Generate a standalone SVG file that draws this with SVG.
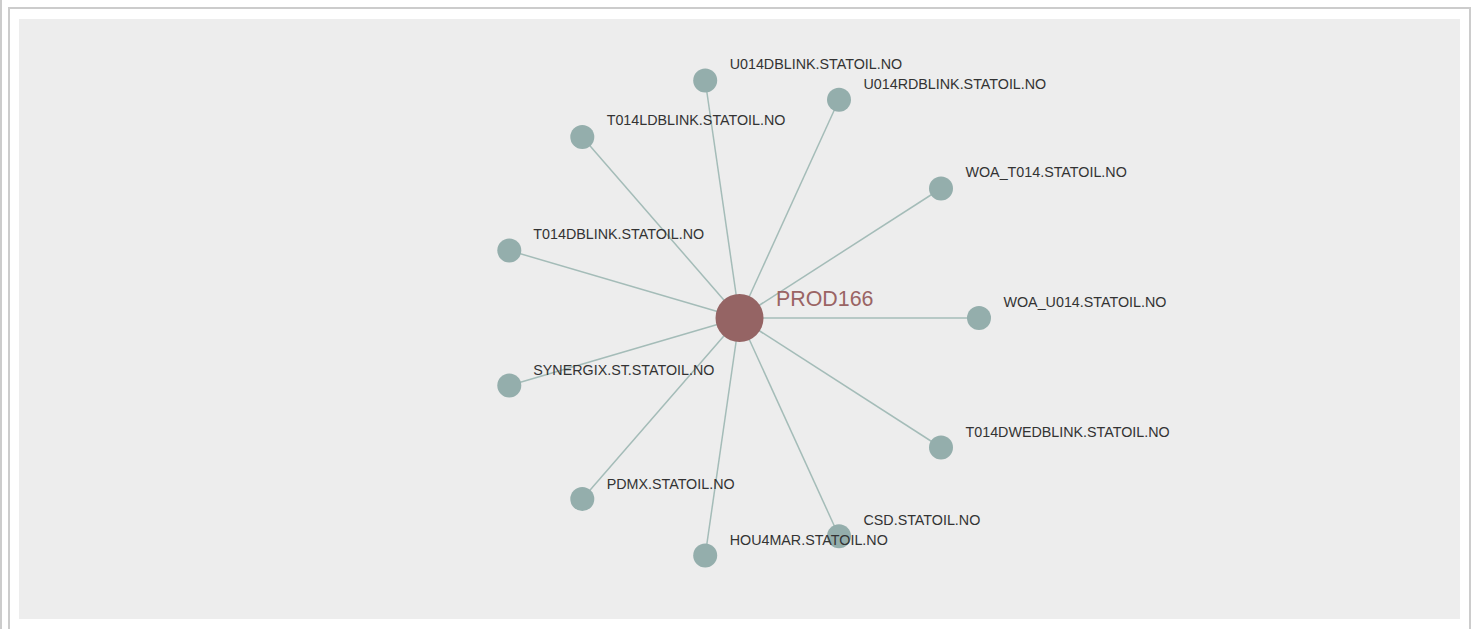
<svg xmlns="http://www.w3.org/2000/svg" width="1471" height="629" viewBox="0 0 1471 629">
<style>
.frame{fill:none;stroke:#cccccc;stroke-width:2}
.edge{stroke:#a4bcb8;stroke-width:1.5}
.leaf{fill:#94aeac}
.hub{fill:#956464}
.lbl{font-family:"Liberation Sans",Arial,sans-serif;font-size:14.3px;fill:#333333}
.hublbl{font-family:"Liberation Sans",Arial,sans-serif;font-size:21.4px;fill:#9a6464}
</style>
<rect x="0" y="0" width="1471" height="629" fill="#ffffff"/>
<line class="frame" x1="1" y1="0" x2="1" y2="629"/>
<path class="frame" d="M9,629 V8 H1470 V629"/>
<rect x="19" y="19" width="1441" height="600" fill="#ededed"/>
<g id="edges">
<line class="edge" x1="739.5" y1="318" x2="979" y2="318"/>
<line class="edge" x1="739.5" y1="318" x2="941" y2="188.5"/>
<line class="edge" x1="739.5" y1="318" x2="941" y2="447.5"/>
<line class="edge" x1="739.5" y1="318" x2="839" y2="99.8"/>
<line class="edge" x1="739.5" y1="318" x2="839" y2="536.2"/>
<line class="edge" x1="739.5" y1="318" x2="705.2" y2="80.5"/>
<line class="edge" x1="739.5" y1="318" x2="705.2" y2="555.5"/>
<line class="edge" x1="739.5" y1="318" x2="582.3" y2="137"/>
<line class="edge" x1="739.5" y1="318" x2="582.3" y2="499"/>
<line class="edge" x1="739.5" y1="318" x2="509.3" y2="250.5"/>
<line class="edge" x1="739.5" y1="318" x2="509.3" y2="385.5"/>
</g>
<g id="n-woa-u014"><circle class="leaf" cx="979" cy="318" r="12"/></g>
<g id="n-woa-t014"><circle class="leaf" cx="941" cy="188.5" r="12"/></g>
<g id="n-t014dwedblink"><circle class="leaf" cx="941" cy="447.5" r="12"/></g>
<g id="n-u014rdblink"><circle class="leaf" cx="839" cy="99.8" r="12"/></g>
<g id="n-csd"><circle class="leaf" cx="839" cy="536.2" r="12"/></g>
<g id="n-u014dblink"><circle class="leaf" cx="705.2" cy="80.5" r="12"/></g>
<g id="n-hou4mar"><circle class="leaf" cx="705.2" cy="555.5" r="12"/></g>
<g id="n-t014ldblink"><circle class="leaf" cx="582.3" cy="137" r="12"/></g>
<g id="n-pdmx"><circle class="leaf" cx="582.3" cy="499" r="12"/></g>
<g id="n-t014dblink"><circle class="leaf" cx="509.3" cy="250.5" r="12"/></g>
<g id="n-synergix"><circle class="leaf" cx="509.3" cy="385.5" r="12"/></g>
<g id="n-prod166"><circle class="hub" cx="739.5" cy="318" r="24"/></g>
<g id="labels">
<text class="lbl" x="1003.5" y="306.5">WOA_U014.STATOIL.NO</text>
<text class="lbl" x="965.5" y="177">WOA_T014.STATOIL.NO</text>
<text class="lbl" x="965.5" y="437">T014DWEDBLINK.STATOIL.NO</text>
<text class="lbl" x="863.5" y="88.5">U014RDBLINK.STATOIL.NO</text>
<text class="lbl" x="863.5" y="525">CSD.STATOIL.NO</text>
<text class="lbl" x="729.7" y="69.3">U014DBLINK.STATOIL.NO</text>
<text class="lbl" x="729.7" y="544.5">HOU4MAR.STATOIL.NO</text>
<text class="lbl" x="606.7" y="124.5">T014LDBLINK.STATOIL.NO</text>
<text class="lbl" x="606.7" y="489">PDMX.STATOIL.NO</text>
<text class="lbl" x="533.3" y="239">T014DBLINK.STATOIL.NO</text>
<text class="lbl" x="533.3" y="374.5">SYNERGIX.ST.STATOIL.NO</text>
<text class="hublbl" x="776" y="305.5">PROD166</text>
</g>
</svg>
